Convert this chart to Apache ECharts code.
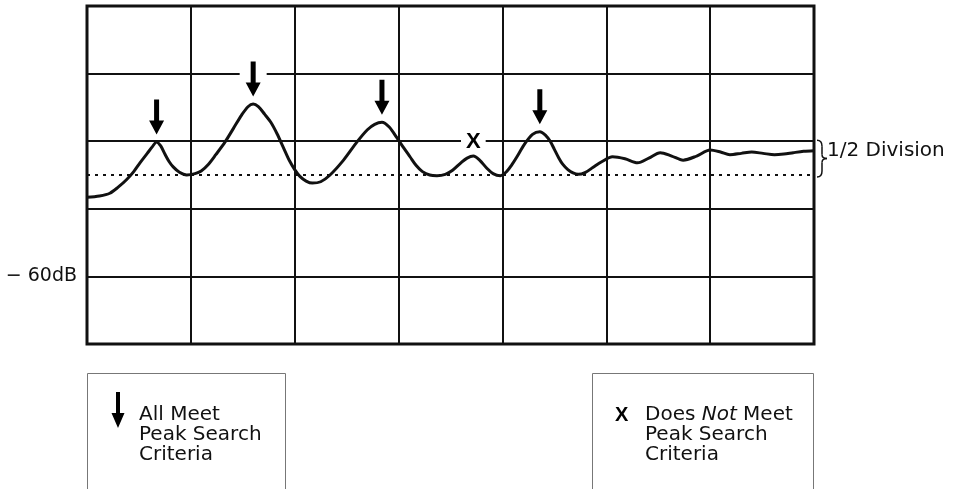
<!DOCTYPE html>
<html>
<head>
<meta charset="utf-8">
<script src="https://cdn.jsdelivr.net/npm/echarts@6/dist/echarts.min.js"></script>
<style>
html,body{margin:0;padding:0;background:#fff;}
#chart{width:953px;height:489px;}
</style>
</head>
<body>
<div id="chart"></div>
<script>
// Trace (x in 1/100 division, amplitude in dB)
const traceX  = [0, 12, 22, 30, 38, 45, 51, 58, 63, 67, 71, 75, 79, 83, 89, 96,
  104, 110, 117, 124, 133, 141, 149, 155, 160, 165, 171, 177, 183, 189, 195, 200, 205, 211, 217,
  225, 234, 247, 260, 270, 277, 284, 291, 298, 305, 311, 317, 323, 330, 337, 345, 352, 360, 366, 372, 378, 385, 391, 398,
  404, 409, 414, 421, 429, 436, 442, 446, 450, 454, 458, 463, 468, 473, 480, 487, 496, 506, 518, 530, 541, 552, 563, 574, 587, 600,
  610, 619, 630, 640, 651, 662, 671, 680, 690, 700];
const traceDb = [-48.3, -48.1, -47.7, -46.8, -45.7, -44.5, -43.2, -41.8, -40.8, -40.1, -40.7, -41.9, -43.0, -43.8, -44.6, -45.0,
  -44.8, -44.4, -43.4, -42.0, -40.1, -38.1, -36.1, -34.9, -34.5, -34.9, -36.0, -37.2, -38.9, -40.9, -42.9, -44.2, -45.2, -45.9, -46.2,
  -46.0, -45.0, -42.8, -40.1, -38.3, -37.5, -37.2, -37.9, -39.4, -41.0, -42.3, -43.6, -44.5, -45.0, -45.1, -44.9, -44.3, -43.2, -42.5, -42.2, -42.8, -44.0, -44.8, -45.1,
  -44.5, -43.5, -42.3, -40.5, -39.0, -38.6, -39.2, -40.0, -41.2, -42.4, -43.4, -44.2, -44.7, -44.9, -44.6, -43.9, -43.0, -42.3, -42.6, -43.2, -42.5, -41.7, -42.2, -42.8, -42.2, -41.3,
  -41.6, -42.0, -41.8, -41.6, -41.8, -42.0, -41.9, -41.7, -41.5, -41.4];
// Peaks that meet the criteria (arrows)
const meetX  = [67, 160, 284, 436];
const meetDb = [-40.1, -34.5, -37.2, -38.6];
// Peak that does not meet criteria (x)
const failX  = [372];
const failDb = [-42.2];
// Threshold line (half a division below the reference line)
const thresholdDb = -45;
const referenceDb = -40;
// Axis
const xMin = 0, xMax = 700, xStep = 100;
const yMin = -70, yMax = -20, yStep = 10;
const yLabelValues = [-60];
const yLabelTexts  = ['− 60dB'];
const braceLabel = '1/2 Division';
const legendMeetText = ['All Meet', 'Peak Search', 'Criteria'];
const legendFailText = ['Does ', 'Not', ' Meet', 'Peak Search', 'Criteria'];

const INK = '#111';
const FONT = '"DejaVu Sans", "Liberation Sans", Arial, sans-serif';
const BOLD = '"Liberation Sans", Arial, sans-serif';
const ARROW = 'path://M-2.5,0 L2.5,0 L2.5,21 L7.5,21 L0,35 L-7.5,21 L-2.5,21 Z';

const chart = echarts.init(document.getElementById('chart'), null, {renderer: 'canvas'});

const traceData = traceX.map((x, i) => [x, traceDb[i]]);
const meetData = meetX.map((x, i) => [x, meetDb[i]]);
const failData = failX.map((x, i) => [x, failDb[i]]);

// gridline gaps behind arrows that cross a horizontal grid line
const pxPerDb = (489 - 145 - 6) / (yMax - yMin);
const gapData = [];
meetData.forEach(p => {
  const lo = p[1] + 8 / pxPerDb, hi = p[1] + 43 / pxPerDb;
  for (let g = yMin; g <= yMax; g += yStep) {
    if (g > lo && g < hi && g < yMax) gapData.push([p[0], g]);
  }
});

chart.setOption({
  animation: false,
  grid: {left: 87, right: 139, top: 6, bottom: 145, show: true, borderColor: INK, borderWidth: 3, backgroundColor: 'transparent'},
  xAxis: {
    type: 'value', min: xMin, max: xMax, interval: xStep,
    axisLine: {show: false}, axisTick: {show: false}, axisLabel: {show: false},
    splitLine: {show: true, lineStyle: {color: INK, width: 2}}
  },
  yAxis: {
    type: 'value', min: yMin, max: yMax, interval: yStep,
    axisLine: {show: false}, axisTick: {show: false},
    axisLabel: {
      show: true, margin: 10, color: INK, fontSize: 19, fontFamily: FONT,
      formatter: v => { const i = yLabelValues.indexOf(v); return i >= 0 ? yLabelTexts[i] : ''; }
    },
    splitLine: {show: true, lineStyle: {color: INK, width: 2}}
  },
  series: [
    {
      type: 'scatter', data: gapData, z: 2, silent: true,
      symbol: 'rect', symbolSize: [27, 7],
      itemStyle: {color: '#fff', opacity: 1}
    },
    {
      type: 'scatter', data: meetData, z: 3, silent: true,
      symbol: ARROW, symbolSize: [15, 35], symbolOffset: [0, -25],
      itemStyle: {color: '#000', opacity: 1}
    },
    {
      type: 'scatter', data: failData, z: 3, silent: true,
      symbol: 'circle', symbolSize: 1,
      itemStyle: {color: '#fff', opacity: 1},
      label: {
        show: true, position: 'inside', offset: [0, -14], formatter: 'X',
        fontFamily: BOLD, fontWeight: 'bold', fontSize: 22, color: '#000',
        backgroundColor: '#fff', padding: [2, 5, 0, 5]
      }
    },
    {
      type: 'line', data: traceData, z: 4, smooth: 0.3, showSymbol: false, silent: true,
      lineStyle: {color: INK, width: 3},
      markLine: {
        silent: true, symbol: 'none', label: {show: false},
        lineStyle: {color: INK, width: 2, type: [3, 5]},
        data: [{yAxis: thresholdDb}]
      }
    }
  ]
});

// Brace + annotation, legend boxes
const pTop = chart.convertToPixel({gridIndex: 0}, [xMax, referenceDb]);
const pBot = chart.convertToPixel({gridIndex: 0}, [xMax, thresholdDb]);
const xL = pTop[0] + 3, yT = pTop[1] - 1, yB = pBot[1] + 2, yM = (yT + yB) / 2;
const bs = {stroke: INK, lineWidth: 1.5, fill: null};
const graphics = [
  {type: 'bezierCurve', shape: {x1: xL, y1: yT, cpx1: xL + 5, cpy1: yT, x2: xL + 5, y2: yT + 6}, style: bs},
  {type: 'line', shape: {x1: xL + 5, y1: yT + 6, x2: xL + 5, y2: yM - 4}, style: bs},
  {type: 'bezierCurve', shape: {x1: xL + 5, y1: yM - 4, cpx1: xL + 5, cpy1: yM, x2: xL + 10, y2: yM}, style: bs},
  {type: 'bezierCurve', shape: {x1: xL + 10, y1: yM, cpx1: xL + 5, cpy1: yM, x2: xL + 5, y2: yM + 4}, style: bs},
  {type: 'line', shape: {x1: xL + 5, y1: yM + 4, x2: xL + 5, y2: yB - 6}, style: bs},
  {type: 'bezierCurve', shape: {x1: xL + 5, y1: yB - 6, cpx1: xL + 5, cpy1: yB, x2: xL, y2: yB}, style: bs},
  {type: 'text', x: xL + 10, y: yM - 8, style: {text: braceLabel, fontSize: 20, fontFamily: FONT, fill: INK, verticalAlign: 'middle', align: 'left'}},
  // legend boxes
  {type: 'rect', shape: {x: 87.5, y: 373.5, width: 198, height: 140}, style: {fill: null, stroke: '#777', lineWidth: 1}},
  {type: 'rect', shape: {x: 592.5, y: 373.5, width: 221, height: 140}, style: {fill: null, stroke: '#777', lineWidth: 1}},
  {type: 'polygon', shape: {points: [[116, 392], [120, 392], [120, 413], [124.5, 413], [118, 428], [111.5, 413], [116, 413]]}, style: {fill: '#000'}},
  {type: 'text', x: 139, y: 405, style: {text: legendMeetText.join('\n'), fontSize: 20, lineHeight: 20, fontFamily: FONT, fill: INK}},
  {type: 'text', x: 615, y: 405, style: {text: 'X', fontSize: 20, lineHeight: 20, fontWeight: 'bold', fontFamily: BOLD, fill: '#000'}},
  {type: 'text', x: 645, y: 405, style: {
    text: '{n|' + legendFailText[0] + '}{i|' + legendFailText[1] + '}{n|' + legendFailText[2] + '}\n{n|' + legendFailText[3] + '}\n{n|' + legendFailText[4] + '}',
    rich: {
      n: {fontSize: 20, lineHeight: 20, fontFamily: FONT, fill: INK, color: INK},
      i: {fontSize: 20, lineHeight: 20, fontFamily: FONT, fontStyle: 'italic', fill: INK, color: INK}
    }
  }}
];
chart.setOption({graphic: graphics});
</script>
</body>
</html>
